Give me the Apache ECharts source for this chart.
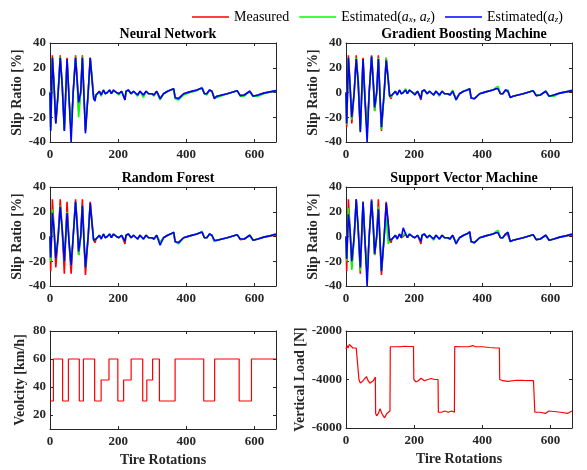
<!DOCTYPE html>
<html><head><meta charset="utf-8">
<script src="https://cdn.jsdelivr.net/npm/echarts@6/dist/echarts.min.js"></script>
<style>html,body{margin:0;padding:0;background:#fff}#c{width:587px;height:470px}</style>
</head><body><div id="c"></div>
<script>
// ---- data ----
const slipX = [0,2,7,12,17,24,30,36,42,50,56,62,68,75,80,84,90,95,100,104,112,118,124,128,132,135,140,145,150,157,162,168,175,180,186,195,202,210,215,220,223,230,238,245,250,257,264,274,282,289,299,305,313,323,333,345,357,363,367,377,392,410,431,440,446,453,460,468,475,482,490,520,549,554,558,570,586,590,596,610,627,645,663];
const measured = [0,-28,30,5,-25,0,30,5,-30,28,-5,-30,0,30,10,-15,0,30,-5,-31,0,28,10,-3,-5,-2,-3,1,-2,2,-1,0,2,-1,2,0,-1,1,2,-6,1,2,-1,1,2,-2,1,-2,1,-1,-1,-2,1,-5,-1,1,2.5,3,-4.5,-5,-1,0.5,2,3,4,-1,-1,2,1,-4,-3,-1,1.5,3,-2.5,-2,1,2,-3,-2,-0.5,0.5,1];
const nnAxAz = [1,-30,28,5,-24,0,29,5,-31,27,-5,-31,0,29,8,-20,0,29,-5,-30,0,27,8,-4,-6,-2,-3,0,-3,2,-1,0,2,-1,1,0,-2,1,2,-5,1,2,-1,1,1,-3,1,-4,1,-1,-1,-3,1,-6,-1,1,2,3,-5,-6,-2,0,1.5,3,4,-1,-2,2,1,-4,-4,-1,1.5,2.5,-3,-3,1,2,-3,-3,-1,0.5,1];
const nnAz = [0,-31,28,5,-25,0,28,5,-31,27,-5,-40,0,28,8,-8,0,28,-5,-33,0,28,8,-5,-7,-2,-3,1,-2,2,-1,0,2,-1,2,0,-1,1,1,-6,1,2,-1,1,2,-2,1,-2,1,-1,-1,-2,1,-5,-1,1,2.5,3,-4,-5,-1,0.5,2,3,3.5,-1,-1,2,1,-5,-3,-1,1.5,2.5,-2.5,-2,1,1.5,-3,-2,-0.5,0.5,1.5];
const gbmAxAz = [0,-26,28,5,-22,0,28,10,-31,26,-8,-33,0,29,8,-15,0,28,-5,-30,0,28,10,-2,-4,-2,-3,1,-2,2,-1,0,3,-1,2,0,-1,1,2,-5,1,2,-1,1,2,-2,1,-3,1,-1,-1,-2,2,-6,-1,1,2.5,3,-4.5,-5,-1,0.5,2,4,5,-1,-1,2,2,-4,-3,-1,1.5,3,-2,-2,1,2,-3,-3,-0.5,0.5,2];
const gbmAz = [0,-25,28,5,-20,0,27,8,-32,27,-8,-40,0,29,8,-12,0,27,-5,-28,0,26,10,-3,-4,-2,-3,1,-2,2,-1,0,2,-1,2,0,-2,1,2,-5,1,2,-1,1,2,-2,1,-2,1,-1,-1,-2,1,-6,-1,1,2,3,-4.5,-5,-1,0.5,2,3,3,-1,-1,2,1,-4,-3,-1,1.5,2.5,-2.5,-2,1,2,-3,-2,-0.5,0.5,1.5];
const rfAxAz = [0,-20,22,5,-18,0,25,5,-20,20,-5,-23,0,28,8,-15,0,25,-5,-25,0,27,8,-3,-4,-2,-3,1,-2,2,-1,0,2,-1,2,0,-1,1,2,-4,1,2,-1,1,2,-2,1,-2,1,-1,-1,-2,1,-5,-1,1,2.5,3,-4,-6,-1,0.5,2,3,4,-1,-1,2,1,-4,-3,-1,1.5,3,-2,-2,1,2,-3,-2,-0.5,0.5,2];
const rfAz = [0,-17,19,5,-18,0,24,5,-20,19,-5,-23,0,28,8,-12,0,25,-5,-25,0,27,8,-3,-4,-2,-3,1,-2,2,-1,0,2,-1,2,0,-1,1,2,-4,1,2,-1,1,2,-2,1,-2,1,-1,-1,-2,1,-7,-1,1,2.5,3.5,-4,-5,-1,0.5,2,3,3.5,-1,-1,2,1,-3,-3,-1,1.5,2.5,-2,-2,1,2,-3,-2,-0.5,0.5,2];
const svmAxAz = [0,-20,23,5,-27,0,29,5,-28,28,-5,-30,0,29,8,-15,0,24,-5,-28,0,15,-6,-3,-4,-2,-3,1,-2,2,-1,1,3,-1,2,0,-1,1,2,-4,1,2,-1,1,2,-3,1,-2,1,-1,-1,-2,1,-5,-1,1,2.5,3,-4.5,-5,-1,0.5,2,4,5,-1,-1,2,3,-4,-3,-1,1.5,3,-2.5,-2,1,2,-3,-2,-0.5,0.5,2];
const svmAz = [0,-18,18,5,-20,0,30,5,-25,28,-5,-40,0,29,8,-14,0,22,-5,-28,0,27,10,-3,-4,-2,-3,1,-2,2,-1,7,2,-1,2,0,-1,1,2,-4,1,2,-1,1,2,-2,1,-2,1,-1,-1,-2,1,-6,-1,1,2.5,4,-4,-5,-1,0.5,2,3,3,-1,-1,2,3.5,-4,-3,-1,1.5,3,-2.5,-2,1,2,-3,-2,-0.5,0.5,2];
const panelTitles = ['Neural Network','Gradient Boosting Machine','Random Forest','Support Vector Machine'];
const velX = [0,10,37,54,86,98,131,150,173,199,216,238,272,284,301,321,367,451,483,555,591,663];
const velY = [30,60,30,60,30,60,30,45,60,30,45,60,30,45,60,30,60,30,60,30,60,60];
const loadX = [0,3,6,10,15,20,25,30,35,37,38,42,45,50,55,60,65,70,75,80,84,86,87,90,95,100,105,110,113,120,125,129,130,140,150,160,170,185,198,199,205,212,220,230,240,250,260,270,271,275,280,290,300,310,318,319,340,360,372,380,400,420,440,450,451,460,475,480,500,520,550,553,554,570,585,590,595,610,630,650,663];
const loadY = [-2750,-2600,-2700,-2550,-2600,-2700,-2750,-2700,-2700,-2700,-4000,-4150,-4200,-4050,-4100,-3880,-4050,-4150,-4100,-4050,-4050,-3900,-5400,-5500,-5400,-5200,-5400,-5350,-5580,-5400,-5350,-5300,-2650,-2650,-2650,-2650,-2630,-2640,-2640,-4000,-4100,-4050,-3950,-4050,-4000,-3960,-4000,-4000,-5350,-5420,-5350,-5300,-5350,-5300,-5350,-2640,-2650,-2650,-2600,-2650,-2650,-2680,-2700,-2700,-4000,-4050,-4080,-4020,-4030,-4040,-4050,-4060,-5350,-5350,-5400,-5450,-5300,-5320,-5350,-5400,-5300];
const xTicks = [0,200,400,600];
const slipTicks = [-40,-20,0,20,40];
const velTicks = [20,40,60,80];
const loadTicks = [-6000,-4000,-2000];

// ---- chart ----
const FONT = 'Liberation Serif';
const AX = '#262626';
const grids = [
  {left:50, top:43, width:226, height:99},
  {left:346, top:43, width:226, height:99},
  {left:50, top:187, width:226, height:99},
  {left:346, top:187, width:226, height:99},
  {left:50, top:331, width:226, height:98},
  {left:346, top:331, width:226, height:97}
];
const xAxes = [], yAxes = [], series = [], titles = [];
const lbl = {fontFamily:FONT, fontWeight:'bold', fontSize:13, color:AX, formatter:function(v){return String(v);}};
function addAxes(i, ymin, ymax, yticks, yname, nameGap, showXName){
  xAxes.push({type:'value', gridIndex:i, min:0, max:663, position:'bottom',
    axisLine:{show:true, onZero:false, lineStyle:{color:AX, width:1}},
    axisTick:{show:true, inside:true, length:3, customValues:xTicks, lineStyle:{color:AX}},
    axisLabel:{...lbl, margin:6, customValues:xTicks},
    splitLine:{show:false},
    name: showXName ? 'Tire Rotations' : '', nameLocation:'middle', nameGap:24,
    nameTextStyle:{fontFamily:FONT, fontWeight:'bold', fontSize:14, color:AX}});
  xAxes.push({type:'value', gridIndex:i, min:0, max:663, position:'top',
    axisLine:{show:true, onZero:false, lineStyle:{color:AX, width:1}},
    axisTick:{show:true, inside:true, length:3, customValues:xTicks, lineStyle:{color:AX}},
    axisLabel:{show:false}, splitLine:{show:false}});
  yAxes.push({type:'value', gridIndex:i, min:ymin, max:ymax, position:'left',
    axisLine:{show:true, onZero:false, lineStyle:{color:AX, width:1}},
    axisTick:{show:true, inside:true, length:3, customValues:yticks, lineStyle:{color:AX}},
    axisLabel:{...lbl, margin:4, customValues:yticks},
    splitLine:{show:false},
    name:yname, nameLocation:'middle', nameGap:nameGap,
    nameTextStyle:{fontFamily:FONT, fontWeight:'bold', fontSize:14, color:AX}});
  yAxes.push({type:'value', gridIndex:i, min:ymin, max:ymax, position:'right',
    axisLine:{show:true, onZero:false, lineStyle:{color:AX, width:1}},
    axisTick:{show:true, inside:true, length:3, customValues:yticks, lineStyle:{color:AX}},
    axisLabel:{show:false}, splitLine:{show:false}});
}
function pairs(xs, ys){ return xs.map((x,k)=>[x, ys[k]]); }
const estimates = [[nnAxAz,nnAz],[gbmAxAz,gbmAz],[rfAxAz,rfAz],[svmAxAz,svmAz]];
for (let i=0;i<4;i++){
  addAxes(i, -40, 40, slipTicks, 'Slip Ratio [%]', 26, false);
  const xi = i*2, yi = i*2;
  const common = {type:'line', xAxisIndex:xi, yAxisIndex:yi, symbol:'none', animation:false};
  series.push({...common, name:'Measured', data:pairs(slipX, measured), lineStyle:{color:'#ff0000', width:1.6}, itemStyle:{color:'#ff0000'}});
  series.push({...common, name:'Estimated(ax,az)', data:pairs(slipX, estimates[i][0]), lineStyle:{color:'#00ff00', width:1.6}, itemStyle:{color:'#00ff00'}});
  series.push({...common, name:'Estimated(az)', data:pairs(slipX, estimates[i][1]), lineStyle:{color:'#0000ff', width:1.6}, itemStyle:{color:'#0000ff'}});
  const g = grids[i];
  titles.push({text:panelTitles[i], left:g.left + g.width/2, top:g.top-21, textAlign:'center',
    textStyle:{fontFamily:FONT, fontWeight:'bold', fontSize:14, color:'#000'}});
}
addAxes(4, 10, 80, velTicks, 'Veolcity [km/h]', 23, true);
addAxes(5, -6000, -2000, loadTicks, 'Vertical Load [N]', 36, true);
series.push({type:'line', xAxisIndex:8, yAxisIndex:8, symbol:'none', step:'end', animation:false,
  data:pairs(velX, velY), lineStyle:{color:'#ff0000', width:1.2}});
series.push({type:'line', xAxisIndex:10, yAxisIndex:10, symbol:'none', animation:false,
  data:pairs(loadX, loadY), lineStyle:{color:'#ff0000', width:1.2}});

const chart = echarts.init(document.getElementById('c'), null, {renderer:'canvas'});
chart.setOption({
  backgroundColor:'#fff',
  animation:false,
  title: titles,
  grid: grids,
  xAxis: xAxes,
  yAxis: yAxes,
  legend: {
    data:['Measured','Estimated(ax,az)','Estimated(az)'],
    left:187, top:5, itemWidth:37, itemHeight:1.5, itemGap:10,
    icon:'rect',
    formatter: function(n){
      if (n==='Measured') return '{n|Measured}';
      if (n==='Estimated(ax,az)') return '{n|Estimated(}{i|a}{s|x}{n|, }{i|a}{s|z}{n|)}';
      return '{n|Estimated(}{i|a}{s|z}{n|)}';
    },
    textStyle:{
      padding:[0,0,0,0],
      rich:{
        n:{fontFamily:FONT, fontSize:14, color:'#000'},
        i:{fontFamily:FONT, fontSize:14, fontStyle:'italic', color:'#000'},
        s:{fontFamily:FONT, fontSize:9, fontStyle:'italic', color:'#000', verticalAlign:'bottom', padding:[6,0,0,0]}
      }
    }
  },
  series: series
});
</script></body></html>
